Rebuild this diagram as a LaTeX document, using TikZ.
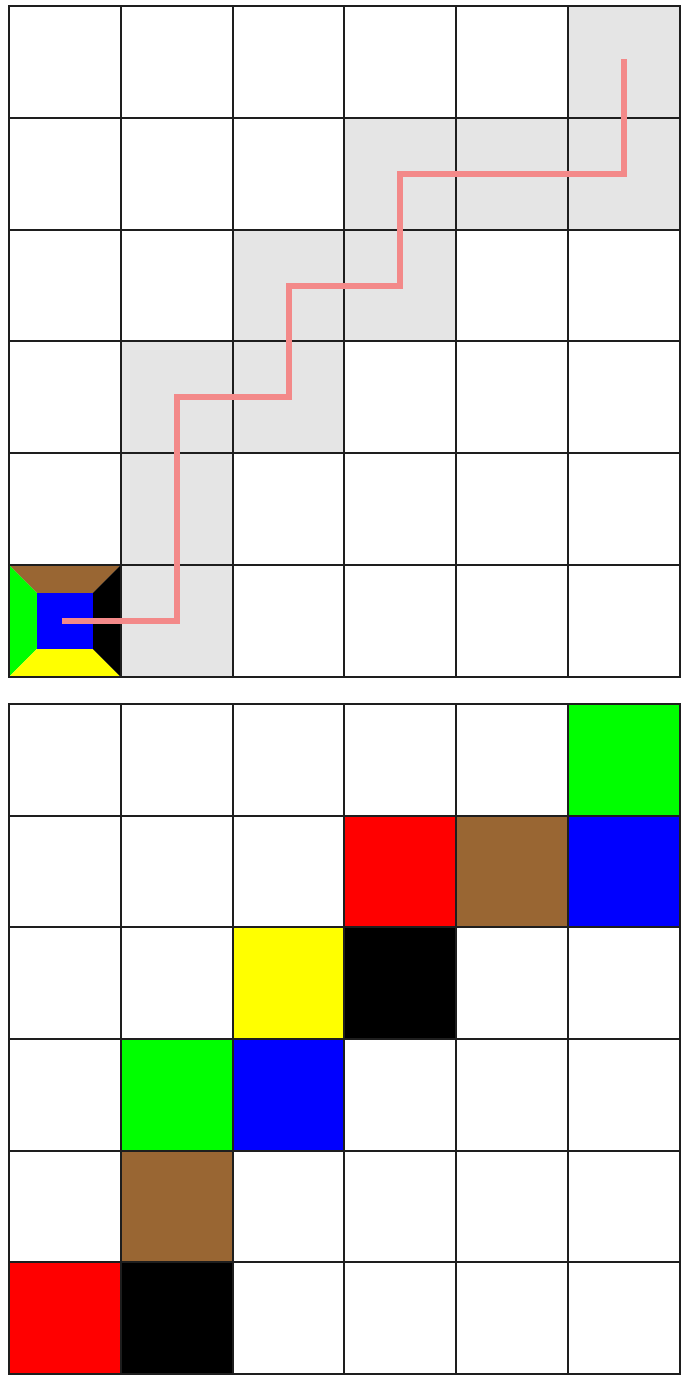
\documentclass[tikz,border=0pt]{standalone}
\definecolor{cellgray}{RGB}{229,229,229}
\definecolor{pathpink}{RGB}{243,137,137}
\definecolor{brownc}{RGB}{153,102,51}
\definecolor{greenc}{RGB}{0,255,0}
\definecolor{redc}{RGB}{255,0,0}
\definecolor{bluec}{RGB}{0,0,255}
\definecolor{yellowc}{RGB}{255,255,0}
\definecolor{linec}{RGB}{30,30,30}
\tikzset{
  gridline/.style={draw=linec, line width=2pt, line cap=rect},
  pinkpath/.style={draw=pathpink, line width=6pt, line cap=rect, line join=miter},
}
\begin{document}
\begin{tikzpicture}[x=1pt,y=-1pt]
\useasboundingbox (0,0) rectangle (685,1376);
\fill[white] (0,0) rectangle (685,1376);
% top grid
\begin{scope}[shift={(9,6)},x=111.8pt,y=-111.8pt]
  \foreach \c/\r in {5/0,3/1,4/1,5/1,2/2,3/2,1/3,2/3,1/4,1/5}
    \fill[cellgray] (\c,\r) rectangle ++(1,1);
  \fill[brownc] (0,5) -- (1,5) -- (0.75,5.25) -- (0.25,5.25) -- cycle;
  \fill[greenc] (0,5) -- (0.25,5.25) -- (0.25,5.75) -- (0,6) -- cycle;
  \fill[yellowc] (0,6) -- (0.25,5.75) -- (0.75,5.75) -- (1,6) -- cycle;
  \fill[black] (1,5) -- (1,6) -- (0.75,5.75) -- (0.75,5.25) -- cycle;
  \fill[bluec] (0.25,5.25) rectangle (0.75,5.75);
  \foreach \i in {0,...,6} {
    \draw[gridline] (\i,0) -- (\i,6);
    \draw[gridline] (0,\i) -- (6,\i);
  }
  \draw[pinkpath] (0.5,5.5) -- (1.5,5.5) -- (1.5,3.5) -- (2.5,3.5) -- (2.5,2.5)
    -- (3.5,2.5) -- (3.5,1.5) -- (5.5,1.5) -- (5.5,0.5);
\end{scope}
% bottom grid
\begin{scope}[shift={(9,704)},x=111.8pt,y=-111.67pt]
  \foreach \c/\r/\col in {5/0/greenc,3/1/redc,4/1/brownc,5/1/bluec,2/2/yellowc,3/2/black,
      1/3/greenc,2/3/bluec,1/4/brownc,0/5/redc,1/5/black}
    \fill[\col] (\c,\r) rectangle ++(1,1);
  \foreach \i in {0,...,6} {
    \draw[gridline] (\i,0) -- (\i,6);
    \draw[gridline] (0,\i) -- (6,\i);
  }
\end{scope}
\end{tikzpicture}
\end{document}
